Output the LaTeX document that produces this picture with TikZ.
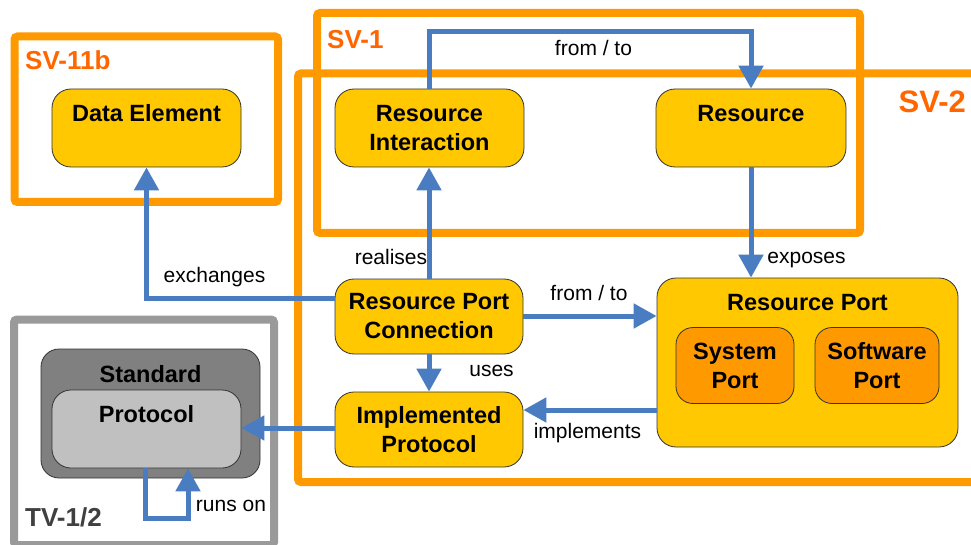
\documentclass[tikz,border=0pt]{standalone}
\usepackage{fontspec}
\setmainfont{Liberation Sans}
\usetikzlibrary{arrows.meta}

\definecolor{boxyellow}{HTML}{FFC800}
\definecolor{portorange}{HTML}{FF9900}
\definecolor{frameorange}{HTML}{FF9900}
\definecolor{labelorange}{HTML}{FF6600}
\definecolor{linkblue}{HTML}{4A7CC2}
\definecolor{stdgray}{HTML}{808080}
\definecolor{protogray}{HTML}{C0C0C0}
\definecolor{tvgray}{HTML}{9A9A9A}
\definecolor{tvtext}{HTML}{404040}

\tikzset{
  viewframe/.style={draw=frameorange, line width=8pt, rounded corners=3pt},
  techframe/.style={draw=tvgray, line width=8pt, rounded corners=3pt},
  framelabel/.style={anchor=base west, inner sep=0pt, text=labelorange,
    font=\bfseries\fontsize{26}{30}\selectfont},
  elem/.style={draw=black!80, line width=0.8pt, rounded corners=19pt,
    fill=boxyellow, align=center, inner sep=0pt,
    font=\bfseries\fontsize{23.5}{29}\selectfont},
  portelem/.style={elem, fill=portorange, rounded corners=17pt},
  title/.style={anchor=base, inner sep=0pt,
    font=\bfseries\fontsize{23.5}{29}\selectfont},
  link/.style={draw=linkblue, line width=5pt,
    -{Triangle[length=23pt,width=24pt]}},
  linklabel/.style={anchor=base, inner sep=0pt,
    font=\fontsize{21}{25}\selectfont},
}

\begin{document}
\begin{tikzpicture}[x=1pt,y=-1pt]
\useasboundingbox (0,0) rectangle (971,545);
\clip (0,0) rectangle (971,545);
\fill[white] (0,0) rectangle (971,545);

% view frames
\draw[viewframe] (14.5,36.5) rectangle (278,202);
\draw[viewframe] (317,13) rectangle (860,233);
\draw[viewframe] (298,73.5) rectangle (995,482);
\draw[techframe] (14,319.5) rectangle (274,545);

\node[framelabel] (lsv11b) at (25,70) {SV-11b};
\node[framelabel] (lsv1) at (327,48.3) {SV-1};
\node[framelabel, anchor=base east, font=\bfseries\fontsize{31}{35}\selectfont]
  (lsv2) at (966,112.7) {SV-2};
\node[framelabel, text=tvtext] (ltv) at (25,526.7) {TV-1/2};

% elements
\node[elem, minimum width=189, minimum height=78] (de) at (146.5,128) {};
\node[title] (tde) at ([yshift=-33pt]de.north) {Data Element};

\node[elem, minimum width=189, minimum height=78] (ri) at (429.5,128)
  {Resource\\Interaction};

\node[elem, minimum width=190, minimum height=78] (res) at (751,128) {};
\node[title] (tres) at ([yshift=-33pt]res.north) {Resource};

\node[elem, minimum width=188, minimum height=75] (rpc) at (429,316.5)
  {Resource Port\\Connection};

\node[elem, minimum width=188, minimum height=75] (ip) at (429,429.5)
  {Implemented\\Protocol};

\node[elem, minimum width=301, minimum height=169] (rp) at (807.5,362.5) {};
\node[title] (trp) at ([yshift=-32.5pt]rp.north) {Resource Port};
\node[portelem, minimum width=118, minimum height=76] (sys) at (735,365.5)
  {System\\Port};
\node[portelem, minimum width=124, minimum height=76] (sw) at (877,365.5)
  {Software\\Port};

\node[elem, fill=stdgray, rounded corners=18pt, minimum width=219,
  minimum height=129] (std) at (150.5,413.5) {};
\node[title] (tstd) at ([yshift=-33.5pt]std.north) {Standard};
\node[elem, fill=protogray, minimum width=189, minimum height=78]
  (proto) at (146.5,429) {};
\node[title] (tproto) at ([yshift=-32.5pt]proto.north) {Protocol};

% relations
\draw[link] (rpc.west |- 0,298) -| (de.south);
\draw[link] (rpc.north) -- (rpc.north |- ri.south);
\draw[link] (ri.north) -- (ri.north |- 0,32) -| (res.north);
\draw[link] (res.south) -- (res.south |- rp.north);
\draw[link] (rpc.east |- 0,316) -- (rp.west |- 0,316);
\draw[link] (rpc.south) -- (ip.north);
\draw[link] (rp.west |- 0,410) -- (ip.east |- 0,410);
\draw[link] (ip.west |- 0,428) -- (proto.east |- 0,428);
\draw[link] (proto.south -| 145,0) -- ++(0,50) -| (proto.south -| 188,0);

% relation labels
\node[linklabel] (lexch) at (214.5,282.7) {exchanges};
\node[linklabel] (lreal) at (391,265) {realises};
\node[linklabel] (lft1) at (593.5,56) {from / to};
\node[linklabel] (lexp) at (806.5,263) {exposes};
\node[linklabel] (lft2) at (589,300) {from / to};
\node[linklabel] (luses) at (491.5,376.7) {uses};
\node[linklabel] (limpl) at (587.5,438.3) {implements};
\node[linklabel] (lruns) at (231,511.7) {runs on};
\end{tikzpicture}
\end{document}
